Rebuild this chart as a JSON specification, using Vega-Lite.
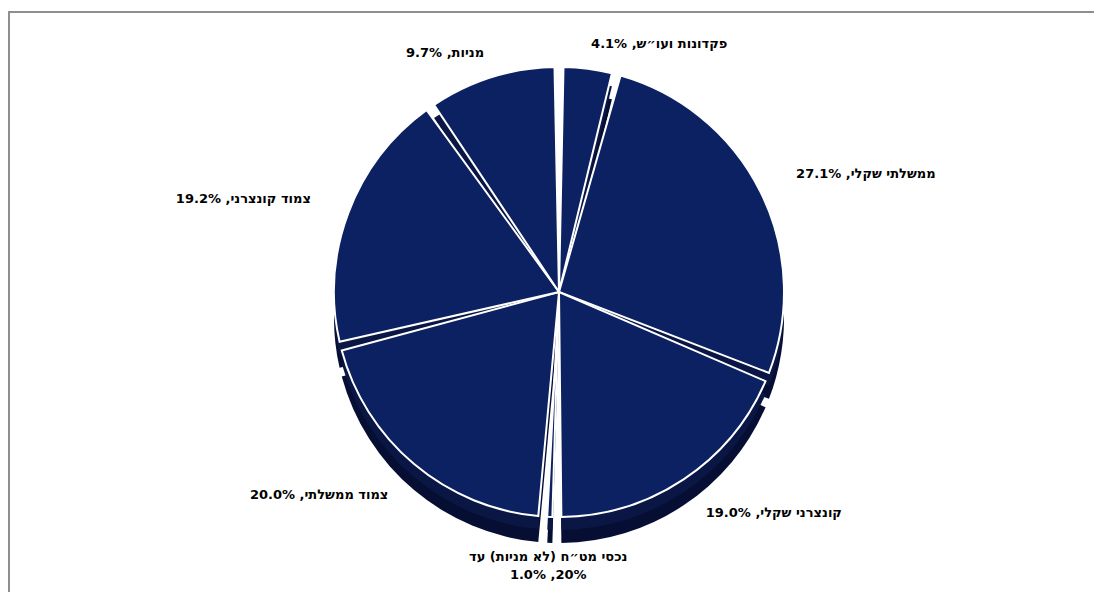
{
  "$schema": "https://vega.github.io/schema/vega-lite/v6.json",
  "width": 1100,
  "height": 600,
  "autosize": {"type": "none"},
  "padding": {"left": 9, "top": 12, "right": 0, "bottom": 0},
  "background": "white",
  "view": {"stroke": "#8f8f8f", "strokeWidth": 2},
  "data": {
    "values": [
      {"category": "פקדונות ועו״ש", "pct": 4.1, "label": "פקדונות ועו״ש, 4.1%"},
      {"category": "ממשלתי שקלי", "pct": 27.1, "label": "ממשלתי שקלי, 27.1%"},
      {"category": "קונצרני שקלי", "pct": 19.0, "label": "קונצרני שקלי, 19.0%"},
      {"category": "נכסי מט״ח", "pct": 1.0, "label": "נכסי מט״ח (לא מניות) עד|1.0% ,20%"},
      {"category": "צמוד ממשלתי", "pct": 20.0, "label": "צמוד ממשלתי, 20.0%"},
      {"category": "צמוד קונצרני", "pct": 19.2, "label": "צמוד קונצרני, 19.2%"},
      {"category": "מניות", "pct": 9.7, "label": "מניות, 9.7%"}
    ]
  },
  "transform": [
    {"window": [{"op": "row_number", "as": "idx"}]},
    {"stack": "pct", "groupby": [], "sort": [{"field": "idx", "order": "ascending"}], "as": ["s0", "s1"]},
    {"calculate": "(datum.s0 + datum.s1) / 2", "as": "mid"}
  ],
  "layer": [
    {
      "mark": {"type": "arc", "radius": 225, "padAngle": 0.04, "fill": "#060f33", "yOffset": 6},
      "encoding": {
        "theta": {"field": "s0", "type": "quantitative", "scale": {"domain": [0, 100.1]}},
        "theta2": {"field": "s1"}
      }
    },
    {
      "mark": {"type": "arc", "radius": 225, "padAngle": 0.04, "fill": "#0a1745", "yOffset": -7},
      "encoding": {
        "theta": {"field": "s0", "type": "quantitative", "scale": {"domain": [0, 100.1]}},
        "theta2": {"field": "s1"}
      }
    },
    {
      "mark": {"type": "arc", "radius": 225, "padAngle": 0.04, "fill": "#0c2161", "stroke": "white", "strokeWidth": 2, "yOffset": -20},
      "encoding": {
        "theta": {"field": "s0", "type": "quantitative", "scale": {"domain": [0, 100.1]}},
        "theta2": {"field": "s1"}
      }
    },
    {
      "transform": [{"filter": "datum.category == 'פקדונות ועו״ש'"}],
      "mark": {"type": "text", "radius": 250, "font": "DejaVu Sans", "fontSize": 13, "fontWeight": "bold", "color": "black", "align": "left", "baseline": "middle", "yOffset": -20},
      "encoding": {
        "theta": {"field": "mid", "type": "quantitative", "scale": {"domain": [0, 100.1]}},
        "text": {"field": "label"}
      }
    },
    {
      "transform": [{"filter": "indexof(['ממשלתי שקלי','קונצרני שקלי'], datum.category) >= 0"}],
      "mark": {"type": "text", "radius": 265, "font": "DejaVu Sans", "fontSize": 13, "fontWeight": "bold", "color": "black", "align": "left", "baseline": "middle", "yOffset": -20},
      "encoding": {
        "theta": {"field": "mid", "type": "quantitative", "scale": {"domain": [0, 100.1]}},
        "text": {"field": "label"}
      }
    },
    {
      "transform": [{"filter": "datum.category == 'נכסי מט״ח'"}],
      "mark": {"type": "text", "radius": 265, "font": "DejaVu Sans", "fontSize": 13, "fontWeight": "bold", "color": "black", "align": "center", "baseline": "middle", "lineBreak": "|", "lineHeight": 18, "yOffset": -20},
      "encoding": {
        "theta": {"field": "mid", "type": "quantitative", "scale": {"domain": [0, 100.1]}},
        "text": {"field": "label"}
      }
    },
    {
      "transform": [{"filter": "indexof(['צמוד ממשלתי','צמוד קונצרני'], datum.category) >= 0"}],
      "mark": {"type": "text", "radius": 265, "font": "DejaVu Sans", "fontSize": 13, "fontWeight": "bold", "color": "black", "align": "right", "baseline": "middle", "yOffset": -20},
      "encoding": {
        "theta": {"field": "mid", "type": "quantitative", "scale": {"domain": [0, 100.1]}},
        "text": {"field": "label"}
      }
    },
    {
      "transform": [{"filter": "datum.category == 'מניות'"}],
      "mark": {"type": "text", "radius": 250, "font": "DejaVu Sans", "fontSize": 13, "fontWeight": "bold", "color": "black", "align": "right", "baseline": "middle", "yOffset": -20},
      "encoding": {
        "theta": {"field": "mid", "type": "quantitative", "scale": {"domain": [0, 100.1]}},
        "text": {"field": "label"}
      }
    }
  ]
}
